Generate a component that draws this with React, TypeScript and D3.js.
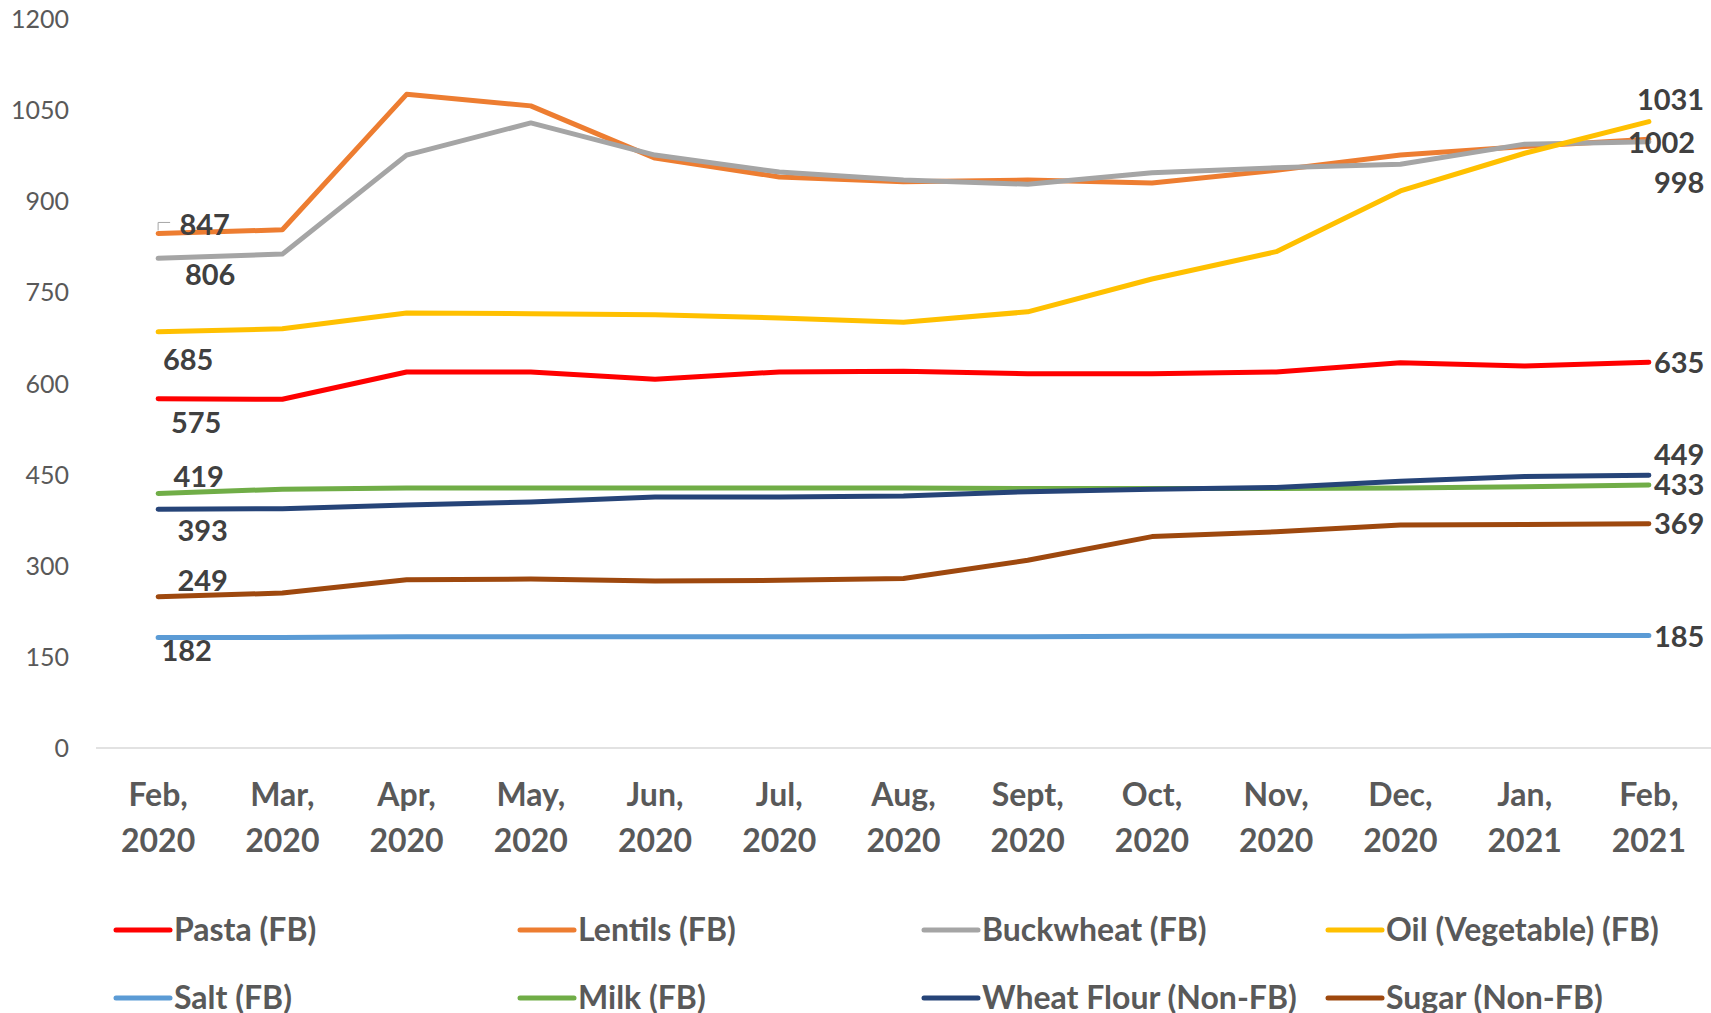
import React from "react";
import * as d3 from "d3";

const months = ["Feb,", "Mar,", "Apr,", "May,", "Jun,", "Jul,", "Aug,", "Sept,", "Oct,", "Nov,", "Dec,", "Jan,", "Feb,"];
const years = ["2020", "2020", "2020", "2020", "2020", "2020", "2020", "2020", "2020", "2020", "2020", "2021", "2021"];
const yTicks = [0, 150, 300, 450, 600, 750, 900, 1050, 1200];

const seriesNames = ["Pasta (FB)", "Lentils (FB)", "Buckwheat (FB)", "Oil (Vegetable) (FB)", "Salt (FB)", "Milk (FB)", "Wheat Flour (Non-FB)", "Sugar (Non-FB)"];
const pasta = [575, 574, 619, 619, 607, 619, 620, 616, 616, 619, 634, 629, 635];
const lentils = [847, 853, 1076, 1057, 971, 940, 932, 935, 930, 951, 976, 990, 1002];
const buckwheat = [806, 813, 976, 1029, 976, 948, 935, 928, 947, 955, 961, 994, 998];
const oil = [685, 690, 716, 715, 713, 708, 701, 718, 772, 817, 917, 979, 1031];
const salt = [182, 182, 183, 183, 183, 183, 183, 183, 184, 184, 184, 185, 185];
const milk = [419, 426, 428, 428, 428, 428, 428, 427, 427, 427, 428, 430, 433];
const wheatFlour = [393, 394, 400, 405, 413, 413, 415, 422, 426, 429, 439, 447, 449];
const sugar = [249, 255, 277, 278, 275, 276, 279, 309, 348, 356, 367, 368, 369];

const colors = ["#FF0000", "#ED7D31", "#A5A5A5", "#FFC000", "#5B9BD5", "#70AD47", "#264478", "#9E480E"];

const W = 1711;
const H = 1013;

// label placement offsets (style, not data)
const startOffsets = [
  { dx: 38, dy: 34 },
  { dx: 46.5, dy: 1.6 },
  { dx: 52, dy: 27 },
  { dx: 30, dy: 38 },
  { dx: 28.5, dy: 24 },
  { dx: 40.5, dy: -6 },
  { dx: 44.5, dy: 31.5 },
  { dx: 44.5, dy: -6 },
];
const endOffsets = [
  { dx: 5, dy: 11 },
  { dx: -21, dy: 14 },
  { dx: 5, dy: 51 },
  { dx: -12, dy: -12 },
  { dx: 5, dy: 11 },
  { dx: 5, dy: 10 },
  { dx: 5, dy: -10 },
  { dx: 5, dy: 10 },
];

export default function App() {
  const allSeries = [pasta, lentils, buckwheat, oil, salt, milk, wheatFlour, sugar];
  const idx = months.map((_, i) => i);
  const x = d3.scalePoint<number>().domain(idx).range([96, 1711]).padding(0.5);
  const y = d3.scaleLinear().domain([0, 1200]).range([748, 19]);
  const line = d3
    .line<number>()
    .x((_, i) => x(i) as number)
    .y((d) => y(d));

  const legendCols = [116, 520, 924, 1328];
  const legendRows = [930, 998];
  const last = months.length - 1;

  return (
    <svg
      width={W}
      height={H}
      style={{ position: "absolute", left: 0, top: 0, display: "block", background: "#fff" }}
      fontFamily="Lato, 'Open Sans', sans-serif"
    >
      <rect width={W} height={H} fill="#fff" />
      {yTicks.map((t) => (
        <text key={t} x={69} y={y(t)} dy="0.36em" textAnchor="end" fontSize={25} fill="#595959">
          {t}
        </text>
      ))}
      <line x1={96} x2={W} y1={y(0)} y2={y(0)} stroke="#D9D9D9" strokeWidth={1.5} />
      {idx.map((i) => (
        <g key={i} fontWeight="bold" fontSize={32} fill="#595959" textAnchor="middle">
          <text x={x(i)} y={806}>{months[i]}</text>
          <text x={x(i)} y={852}>{years[i]}</text>
        </g>
      ))}
      {allSeries.map((s, k) => (
        <path
          key={k}
          d={line(s) || ""}
          fill="none"
          stroke={colors[k]}
          strokeWidth={5}
          strokeLinejoin="round"
          strokeLinecap="round"
        />
      ))}
      <path
        d={`M${(x(0) as number)},${y(lentils[0]) - 3} V${y(lentils[0]) - 11} H${(x(0) as number) + 12}`}
        fill="none"
        stroke="#A6A6A6"
        strokeWidth={1}
      />
      <g fontWeight="bold" fontSize={29} fill="#404040">
        {allSeries.map((s, k) => (
          <text key={"s" + k} x={(x(0) as number) + startOffsets[k].dx} y={y(s[0]) + startOffsets[k].dy} textAnchor="middle">
            {s[0]}
          </text>
        ))}
        {allSeries.map((s, k) => (
          <text key={"e" + k} x={(x(last) as number) + endOffsets[k].dx} y={y(s[last]) + endOffsets[k].dy} textAnchor="start">
            {s[last]}
          </text>
        ))}
      </g>
      <g fontWeight="bold" fontSize={32} fill="#595959">
        {seriesNames.map((n, k) => {
          const lx = legendCols[k % 4];
          const ly = legendRows[Math.floor(k / 4)];
          return (
            <g key={n}>
              <line x1={lx} x2={lx + 54} y1={ly} y2={ly} stroke={colors[k]} strokeWidth={5} strokeLinecap="round" />
              <text x={lx + 58} y={ly + 11}>{n}</text>
            </g>
          );
        })}
      </g>
    </svg>
  );
}
